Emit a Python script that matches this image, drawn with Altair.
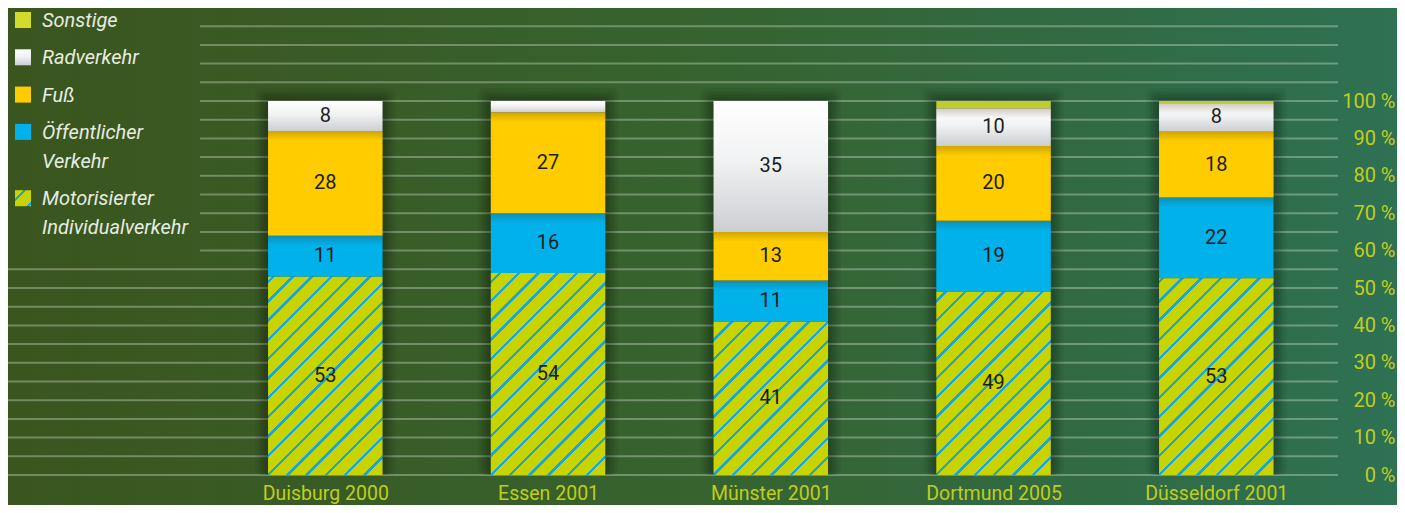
import altair as alt
import pandas as pd
import json

# ---------------- data ----------------
cities = ["Duisburg 2000", "Essen 2001", "Münster 2001", "Dortmund 2005", "Düsseldorf 2001"]
miv = [53, 54, 41, 49, 52.6]
oev = [11, 16, 11, 19, 21.6]
fuss = [28, 27, 13, 20, 17.6]
rad = [8, 3, 35, 10, 7.6]
sonstige = [0, 0, 0, 2, 0.6]

categories = ["Motorisierter Individualverkehr", "Öffentlicher Verkehr", "Fuß", "Radverkehr", "Sonstige"]
series = [miv, oev, fuss, rad, sonstige]

legend_names = ["Sonstige", "Radverkehr", "Fuß", "Öffentlicher Verkehr", "Motorisierter Individualverkehr"]
legend_lines = [["Sonstige"], ["Radverkehr"], ["Fuß"], ["Öffentlicher", "Verkehr"], ["Motorisierter", "Individualverkehr"]]

y_ticks = list(range(0, 101, 10))
grid_values = list(range(0, 121, 5))

# ---------------- layout / style ----------------
W, H = 1330, 467
PAD_R, PAD_B = 59, 30
PX_PCT = 3.74          # pixels per percent
PX_X = 222.75          # pixels per bar step
X0_PX = 317.3          # pixel centre of first bar
BAR_W = 114.5
HALF = BAR_W / PX_X / 2
ROW_H = 37.3
LINE_H = 29
LEG_TOP = 12

C_MIV = "#c8d400"
C_HATCH = "#17a6df"
C_OEV = "#00b1ea"
C_FUSS = "#ffcc00"
C_SONST = "#c3cb2b"
C_LABEL = "#c0ce1c"
FONT = "Roboto"

Y_SCALE = alt.Scale(domain=[0, H / PX_PCT], nice=False, zero=False)
X_SCALE = alt.Scale(domain=[-X0_PX / PX_X, (W - X0_PX) / PX_X], nice=False, zero=False)
Y_AXIS = alt.Axis(orient="right", values=y_ticks, labelExpr="datum.value + ' %'",
                  grid=False, domain=False, ticks=False, labelAlign="right",
                  labelPadding=57, labelFontSize=20, labelFont=FONT, labelColor=C_LABEL,
                  labelBaseline="middle", title=None, zindex=2)
X_AXIS = alt.Axis(values=list(range(len(cities))),
                  labelExpr=json.dumps(cities) + "[datum.value]",
                  grid=False, domain=False, ticks=False, labelPadding=9,
                  labelFontSize=19.5, labelFont=FONT, labelColor=C_LABEL, title=None, zindex=2)


def yenc(f):
    return alt.Y(f + ":Q", scale=Y_SCALE, axis=Y_AXIS, title=None)


def xenc(f):
    return alt.X(f + ":Q", scale=X_SCALE, axis=X_AXIS, title=None)


def grad(stops, x1=0, y1=0, x2=0, y2=1):
    return alt.LinearGradient(gradient="linear",
                              stops=[alt.GradientStop(offset=o, color=c) for o, c in stops],
                              x1=x1, y1=y1, x2=x2, y2=y2)


def hatch(wp, hp, anchor, period=19.3, line=3.4):
    s = wp + hp
    k = s / (wp ** 2 + hp ** 2)
    stops = []
    n = -int(anchor // period) - 2
    while True:
        c = anchor + n * period
        a, b = (c - line / 2) / s, (c + line / 2) / s
        if a > 1:
            break
        if b >= 0:
            a, b = round(max(a, 0), 5), round(min(b, 1), 5)
            stops += [(a, C_MIV), (a, C_HATCH), (b, C_HATCH), (b, C_MIV)]
        n += 1
    return grad(stops, 0, 0, wp * k, hp * k)


white_grad = grad([(0, "#ffffff"), (0.45, "#f1f2f3"), (1, "#cbced2")])
shadow_grad = grad([(0, "rgba(60,40,0,0.24)"), (1, "rgba(60,40,0,0)")])
bg_grad = grad([(0, "#3b551e"), (0.5, "#36632f"), (1, "#2e7153")], 0, 0, 1, 0)

# ---------------- tables ----------------
rows = []
tot = []
for i, c in enumerate(cities):
    vals = [s[i] for s in series]
    base = 0
    for j, cat in enumerate(categories):
        v = vals[j]
        above = any(x > 0 for x in vals[j + 1:])
        rows.append(dict(city=c, idx=i, cat=cat, value=v, y0=base, y1=base + v,
                         ym=base + v / 2, ysh=base + v - 2.6, x_lo=i - HALF, x_hi=i + HALF,
                         xm=i, shade=bool(above and j > 0)))
        base += v
    tot.append(dict(idx=i, total=base))
bars = pd.DataFrame(rows)
bars = bars[bars["value"] > 0]

glow = []
for t in tot:
    for e in [2, 4, 6, 8, 10, 13]:
        glow.append(dict(x_lo=t["idx"] - HALF - e / PX_X, x_hi=t["idx"] + HALF + e / PX_X,
                         y0=0, y1=t["total"] + e / PX_PCT))
glow = pd.DataFrame(glow)

one = pd.DataFrame({"a": [0]})
grid_df = pd.DataFrame({"v": grid_values})

# ---------------- main layers ----------------
bg = alt.Chart(one).mark_rect(color=bg_grad).encode(
    x=alt.value(0), x2=alt.value(W + PAD_R), y=alt.value(0), y2=alt.value(H + PAD_B))

grid_style = dict(color="white", opacity=0.3, strokeWidth=2)
grid_low = alt.Chart(grid_df).transform_filter("datum.v < 60").mark_rule(**grid_style).encode(
    y=yenc("v"), x=alt.value(0), x2=alt.value(W))
grid_high = alt.Chart(grid_df).transform_filter("datum.v >= 60").mark_rule(**grid_style).encode(
    y=yenc("v"), x=alt.value(192), x2=alt.value(W))

glow_layer = alt.Chart(glow).mark_rect(color="black", opacity=0.055, cornerRadius=6).encode(
    x=xenc("x_lo"), x2="x_hi", y=yenc("y1"), y2="y0")

solid_cats = ["Öffentlicher Verkehr", "Fuß", "Sonstige"]
solid = alt.Chart(bars).transform_filter(
    alt.FieldOneOfPredicate(field="cat", oneOf=solid_cats)).mark_rect().encode(
    x=xenc("x_lo"), x2="x_hi", y=yenc("y1"), y2="y0",
    color=alt.Color("cat:N", scale=alt.Scale(domain=solid_cats, range=[C_OEV, C_FUSS, C_SONST]),
                    legend=None))

rad_layer = alt.Chart(bars).transform_filter(alt.datum.cat == "Radverkehr").mark_rect(
    color=white_grad).encode(x=xenc("x_lo"), x2="x_hi", y=yenc("y1"), y2="y0")

hatch_layers = []
for i, c in enumerate(cities):
    hp = miv[i] * PX_PCT
    hatch_layers.append(
        alt.Chart(bars).transform_filter(
            (alt.datum.cat == categories[0]) & (alt.datum.idx == i)).mark_rect(
            color=hatch(BAR_W, hp, hp)).encode(
            x=xenc("x_lo"), x2="x_hi", y=yenc("y1"), y2="y0"))

seg_shadow = alt.Chart(bars).transform_filter(alt.datum.shade).mark_rect(
    color=shadow_grad).encode(x=xenc("x_lo"), x2="x_hi", y=yenc("y1"), y2="ysh")

labels = alt.Chart(bars).transform_filter(
    (alt.datum.value >= 5) & (alt.datum.cat != "Sonstige")).mark_text(
    font=FONT, fontSize=20, color="#1d1d1d", baseline="middle", align="center").encode(
    x=xenc("xm"), y=yenc("ym"), text=alt.Text("value:Q", format=".0f"))

main = alt.layer(bg, grid_low, grid_high, glow_layer, solid, rad_layer, *hatch_layers,
                 seg_shadow, labels)

# ---------------- legend ----------------
slots = []
s = 0.0
for ln in legend_lines:
    slots.append(s)
    s += 1 + (LINE_H / ROW_H) * (len(ln) - 1)
leg = pd.DataFrame({"name": legend_names, "lines": legend_lines, "slot": slots})
LEG_SCALE = alt.Scale(domain=[-LEG_TOP / ROW_H, (H - LEG_TOP) / ROW_H], reverse=True,
                      nice=False, zero=False)
ly = alt.Y("slot:Q", scale=LEG_SCALE, axis=None, title=None)

leg_solid_names = ["Sonstige", "Fuß", "Öffentlicher Verkehr"]
leg_solid = alt.Chart(leg).transform_filter(
    alt.FieldOneOfPredicate(field="name", oneOf=leg_solid_names)).mark_square(
    size=256, opacity=1).encode(
    x=alt.value(15), y=ly,
    color=alt.Color("name:N", scale=alt.Scale(domain=leg_solid_names,
                                              range=["#d2da2e", C_FUSS, C_OEV]), legend=None))
leg_rad = alt.Chart(leg).transform_filter(alt.datum.name == "Radverkehr").mark_square(
    size=256, opacity=1, color=white_grad).encode(x=alt.value(15), y=ly)
leg_miv = alt.Chart(leg).transform_filter(alt.datum.name == legend_names[-1]).mark_square(
    size=256, opacity=1, color=hatch(16, 16, 10, period=19, line=3.5)).encode(x=alt.value(15), y=ly)
leg_text = alt.Chart(leg).mark_text(
    align="left", baseline="alphabetic", dy=7, font=FONT, fontSize=20, fontStyle="italic",
    color="#e7ece1", lineHeight=LINE_H).encode(x=alt.value(34), y=ly, text="lines:N")

legend = alt.layer(leg_solid, leg_rad, leg_miv, leg_text)

chart = alt.layer(main, legend).resolve_scale(y="independent", color="independent").properties(
    width=W, height=H,
    padding={"left": 0, "top": 0, "right": PAD_R, "bottom": PAD_B},
    autosize=alt.AutoSizeParams(type="none"),
    background="#33673c",
).configure_view(stroke=None)

chart.save("out.html", embed_options={"renderer": "svg", "actions": False})
